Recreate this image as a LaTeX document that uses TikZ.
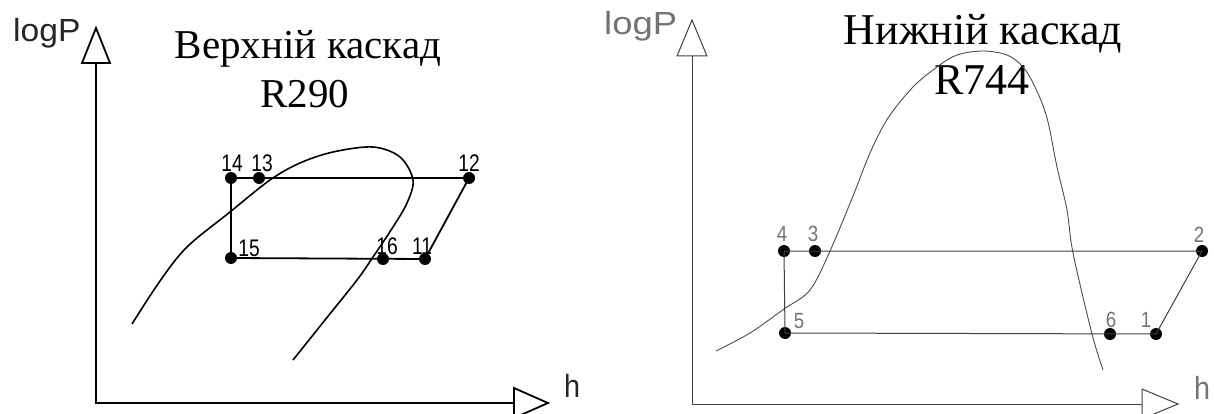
\documentclass[tikz,border=0pt]{standalone}
\usepackage{fontspec}
\setmainfont{Liberation Serif}
\newfontfamily\cadfont{Liberation Sans}
\begin{document}
\begin{tikzpicture}[x=1pt,y=-1pt,
  dotpt/.style={circle, fill=black, inner sep=0pt, minimum size=12pt},
  lineL/.style={line width=1.8pt, black},
  lineR/.style={line width=1pt, black!75},
  curveL/.style={line width=1.6pt, black},
  curveR/.style={line width=0.9pt, black!70},
  axL/.style={line width=1.8pt, black, line join=miter},
  axR/.style={line width=1pt, black!75, line join=miter},
  numL/.style={inner sep=0pt, text=black, font=\cadfont\fontsize{24}{24}\selectfont},
  numR/.style={inner sep=0pt, text=black!55, font=\cadfont\fontsize{22}{22}\selectfont},
  axlabL/.style={inner sep=0pt, text=black!85, font=\cadfont\fontsize{32}{32}\selectfont},
  axlabR/.style={inner sep=0pt, text=black!55, font=\cadfont\fontsize{32}{32}\selectfont},
  titleL/.style={inner sep=0pt, anchor=base, font=\fontsize{41}{41}\selectfont},
  titleR/.style={inner sep=0pt, anchor=base, font=\fontsize{44}{44}\selectfont}
]
\useasboundingbox (0,0) rectangle (1214,414);

% ---------------- Left diagram ----------------
\coordinate (LO) at (96,403);
\coordinate (LYb) at (96,63);
\coordinate (LXb) at (514,403);
\draw[axL] (LYb) -- (LO) -- (LXb);
\draw[axL] (82,63) -- (96,28) -- (110,63) -- cycle;
\draw[axL] (514,388) -- (548,403) -- (514,418) -- cycle;
\node[axlabL, anchor=base west] (logPL) at (13,42) {\scalebox{1.05}[1]{logP}};
\node[axlabL, anchor=base west] (hL) at (564,397) {\scalebox{0.9}[1]{h}};

\node[titleL] (tL1) at (308,59) {Верхній каскад};
\node[titleL] (tL2) at (305,108) {R290};

\draw[curveL] plot[smooth, tension=0.55] coordinates {
 (132,324) (160,281) (187,247) (230,212) (270,180) (300,163) (333,152)
 (373,147) (400,157) (413,180) (407,203) (393,227) (373,257) (357,280)
 (325,320) (293,360)};

\node[dotpt] (p14) at (231,178) {};
\node[dotpt] (p13) at (259,178) {};
\node[dotpt] (p12) at (469,178) {};
\node[dotpt] (p15) at (231,258) {};
\node[dotpt] (p16) at (383,259) {};
\node[dotpt] (p11) at (425,259) {};
\draw[lineL] (p14.center) -- (p12.center) -- (p11.center) -- (p15.center) -- (p14.center);

\node[numL] (l14) at (232,163) {\scalebox{0.8}[1]{14}};
\node[numL] (l13) at (262,163) {\scalebox{0.8}[1]{13}};
\node[numL] (l12) at (469,163) {\scalebox{0.8}[1]{12}};
\node[numL] (l15) at (249,248) {\scalebox{0.8}[1]{15}};
\node[numL] (l16) at (387,246) {\scalebox{0.8}[1]{16}};
\node[numL] (l11) at (422,246) {\scalebox{0.8}[1]{11}};

% ---------------- Right diagram ----------------
\coordinate (RO) at (692,404);
\coordinate (RYb) at (692,56);
\coordinate (RXb) at (1142,404);
\draw[axR] (RYb) -- (RO) -- (RXb);
\draw[axR] (677,56) -- (692,20) -- (707,56) -- cycle;
\draw[axR] (1142,389) -- (1178,404) -- (1142,419) -- cycle;
\node[axlabR, anchor=base west] (logPR) at (604,35) {\scalebox{1.14}[1]{logP}};
\node[axlabR, anchor=base west] (hR) at (1194,399) {\scalebox{0.9}[1]{h}};

\node[titleR] (tR1) at (983,45) {Нижній каскад};
\node[titleR] (tR2) at (982,95) {R744};

\draw[curveR] plot[smooth, tension=0.55] coordinates {
 (716,351) (750,333) (784,309) (810,290) (830,251) (853,196) (870,153)
 (888,118) (913,87) (937,67) (957,55) (983,51) (1007,55) (1023,67)
 (1035,87) (1047,118) (1057,167) (1067,210) (1073,253) (1092,334) (1103,370)};

\node[dotpt] (p4) at (784,251) {};
\node[dotpt] (p3) at (815,251) {};
\node[dotpt] (p2) at (1202,251) {};
\node[dotpt] (p5) at (785,333) {};
\node[dotpt] (p6) at (1110,334) {};
\node[dotpt] (p1) at (1156,334) {};
\draw[lineR] (p4.center) -- (p2.center) -- (p1.center) -- (p5.center) -- (p4.center);

\node[numR] (l4) at (782,234) {\scalebox{0.85}[1]{4}};
\node[numR] (l3) at (813,234) {\scalebox{0.85}[1]{3}};
\node[numR] (l2) at (1199,235) {\scalebox{0.85}[1]{2}};
\node[numR] (l5) at (799,321) {\scalebox{0.85}[1]{5}};
\node[numR] (l6) at (1111,320) {\scalebox{0.85}[1]{6}};
\node[numR] (l1) at (1146,320) {\scalebox{0.85}[1]{1}};
\end{tikzpicture}
\end{document}
